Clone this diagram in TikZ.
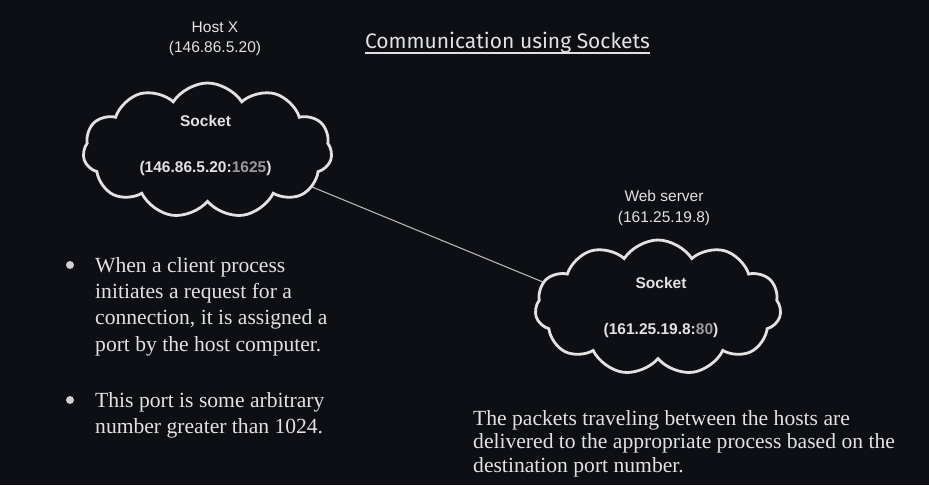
\documentclass[tikz,border=0pt]{standalone}
\usepackage{fontspec}
\setmainfont{Liberation Serif}
\newfontfamily\arialfont{Liberation Sans}
\newfontfamily\titlefont{Fira Sans}
\usetikzlibrary{shapes.symbols}
\definecolor{bg}{HTML}{0D0F14}
\definecolor{fg}{HTML}{E2E2E2}
\definecolor{dotgray}{HTML}{D0D0D0}
\definecolor{portgray}{HTML}{9A9A9A}
\definecolor{wire}{HTML}{B4B4B4}
\pgfdeclarelayer{backfill}
\pgfdeclarelayer{wirelayer}
\pgfsetlayers{backfill,wirelayer,main}
\begin{document}
\begin{tikzpicture}[x=1pt,y=-1pt,
  cloudbox/.style={cloud, cloud puffs=11, cloud puff arc=115, aspect=1.8, draw=fg, line width=2.8pt, fill=bg, inner sep=0pt},
  sanslabel/.style={font=\arialfont\fontsize{15.5}{20}\selectfont, text=fg, inner sep=0pt, anchor=base},
  boldlabel/.style={sanslabel, font=\arialfont\bfseries\fontsize{15.5}{20}\selectfont},
  bodyline/.style={font=\fontsize{21.6}{26}\selectfont, text=fg, inner sep=0pt, anchor=base west},
  bulletmark/.style={circle, fill=dotgray, minimum size=8pt, inner sep=0pt},
  titletext/.style={font=\titlefont\fontsize{21}{24}\selectfont, text=fg, inner sep=0pt, anchor=base},
  wireline/.style={draw=wire, line width=1.1pt}]
\begin{pgfonlayer}{backfill}
\fill[bg] (0,0) rectangle (929,485);
\end{pgfonlayer}
\useasboundingbox (0,0) rectangle (929,485);

% title
\node[titletext] (title) at (507.5,48) {Communication using Sockets};
\draw[fg, line width=2pt] ([yshift=-5pt]title.base west) -- ([yshift=-5pt]title.base east);

% host X
\node[sanslabel] (hostname) at (215,32) {Host X};
\node[sanslabel] (hostip) at (215,52) {(146.86.5.20)};
\node[cloudbox, minimum width=249pt, minimum height=135pt] (c1) at (207.5,150.5) {};
\node[boldlabel] (c1title) at (205.5,126) {Socket};
\node[boldlabel] (c1addr) at (205.5,172) {(146.86.5.20:\textcolor{portgray}{1625})};

% web server
\node[sanslabel] (webname) at (664,201) {Web server};
\node[sanslabel] (webip) at (664,222) {(161.25.19.8)};
\node[cloudbox, minimum width=246pt, minimum height=135pt] (c2) at (658,307.5) {};
\node[boldlabel] (c2title) at (661,288) {Socket};
\node[boldlabel] (c2addr) at (661,334) {(161.25.19.8:\textcolor{portgray}{80})};

% connector (behind the clouds, so it meets their outlines)
\coordinate (w1) at ([xshift=92.5pt,yshift=-31.5pt]c1.center);
\coordinate (w2) at ([xshift=-103pt,yshift=20.5pt]c2.center);
\begin{pgfonlayer}{wirelayer}
\draw[wireline] (w1) -- (w2);
\end{pgfonlayer}

% bullets
\node[bulletmark] (b1) at (70,265) {};
\node[bodyline] (b1l1) at (95,272) {When a client process};
\node[bodyline] (b1l2) at (95,298) {initiates a request for a};
\node[bodyline] (b1l3) at (95,324.5) {connection, it is assigned a};
\node[bodyline] (b1l4) at (95,351) {port by the host computer.};
\node[bulletmark] (b2) at (70,400) {};
\node[bodyline] (b2l1) at (95,407) {This port is some arbitrary};
\node[bodyline] (b2l2) at (95,433) {number greater than 1024.};

% bottom text
\node[bodyline] (p1) at (473,425) {The packets traveling between the hosts are};
\node[bodyline] (p2) at (473,448.5) {delivered to the appropriate process based on the};
\node[bodyline] (p3) at (473,472) {destination port number.};
\end{tikzpicture}
\end{document}
